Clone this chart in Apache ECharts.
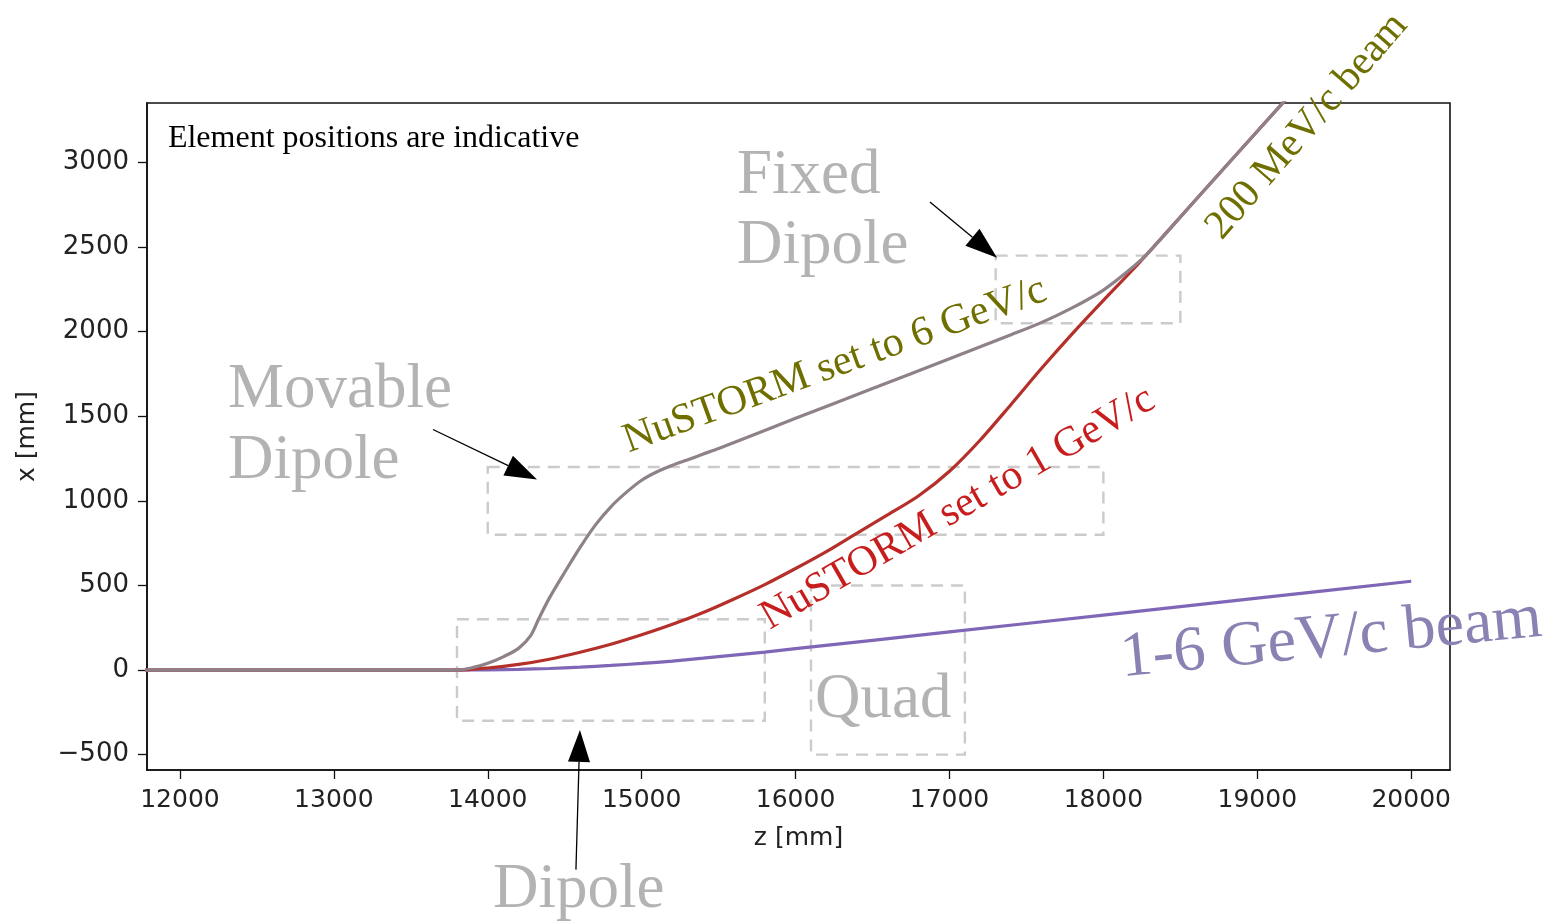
<!DOCTYPE html>
<html>
<head>
<meta charset="utf-8">
<script src="https://cdn.jsdelivr.net/npm/echarts@6/dist/echarts.min.js"></script>
<style>
  html, body { margin: 0; padding: 0; background: #ffffff; }
  #chart { width: 1546px; height: 921px; }
</style>
</head>
<body>
<div id="chart"></div>
<script>
// Axis ticks
const zTicks = [12000, 13000, 14000, 15000, 16000, 17000, 18000, 19000, 20000];
const xTicks = [-500, 0, 500, 1000, 1500, 2000, 2500, 3000];

// 1-6 GeV/c beam trajectory (z, x in mm)
const beamLowZ = [11700, 13800, 14000, 14200, 14400, 14600, 14800, 15000, 15200, 15400, 15600, 15800, 16000, 17000, 18000, 19000, 20000];
const beamLowX = [0, 0, 1, 4, 9, 17, 27, 39, 53, 70, 88, 106, 126, 225, 325, 425, 525];

// nuSTORM set to 1 GeV/c trajectory
const nu1Z = [11700, 13800, 14000, 14200, 14400, 14600, 14800, 15000, 15200, 15400, 15600, 15800, 16000, 16200, 16400, 16600, 16800, 17000, 17200, 17400, 17600, 17800, 18000, 18200, 18300, 18600, 19000, 19400];
const nu1X = [0, 0, 12, 33, 64, 105, 152, 208, 270, 340, 420, 505, 600, 700, 810, 918, 1030, 1175, 1360, 1570, 1785, 1990, 2185, 2375, 2475, 2780, 3185, 3590];

// nuSTORM set to 6 GeV/c / 200 MeV/c beam trajectory
const nu6Z = [11700, 13800, 13900, 14000, 14100, 14200, 14280, 14330, 14400, 14500, 14600, 14700, 14800, 14900, 15000, 15100, 15200, 15300, 15400, 15500, 16000, 16500, 17000, 17400, 17600, 17800, 18000, 18200, 18300, 18600, 19000, 19400];
const nu6X = [0, 0, 14, 40, 78, 128, 205, 300, 425, 578, 725, 858, 965, 1050, 1122, 1172, 1210, 1243, 1277, 1310, 1488, 1664, 1840, 1982, 2055, 2142, 2246, 2388, 2475, 2780, 3185, 3590];

// Beamline elements: [zStart, zEnd, xLow, xHigh]
const dipoleBox = [13800, 15800, -300, 300];
const movableDipoleBox = [14000, 18000, 800, 1200];
const quadBox = [16100, 17100, -500, 500];
const fixedDipoleBox = [17300, 18500, 2050, 2450];

function pairs(zs, xs) { return zs.map((z, i) => [z, xs[i]]); }
function box(b) { return [{ coord: [b[0], b[3]] }, { coord: [b[1], b[2]] }]; }

const chart = echarts.init(document.getElementById('chart'), null, { renderer: 'canvas' });

const tickFont = { fontFamily: 'DejaVu Sans', fontSize: 25, color: '#222222' };
const axisStroke = { color: '#111111', width: 1.6 };

const option = {
  animation: false,
  backgroundColor: '#ffffff',
  grid: {
    left: 147, right: 96, top: 103, bottom: 151,
    show: true, borderColor: '#111111', borderWidth: 1.6, backgroundColor: 'transparent'
  },
  xAxis: {
    type: 'value', min: 11786, max: 20252,
    name: 'z [mm]', nameLocation: 'middle', nameGap: 56,
    nameTextStyle: tickFont,
    axisLine: { show: true, onZero: false, lineStyle: axisStroke },
    axisTick: { show: true, length: 9, customValues: zTicks, lineStyle: { color: '#111111', width: 1.3 } },
    axisLabel: { customValues: zTicks, margin: 18, ...tickFont, formatter: v => String(v) },
    splitLine: { show: false }
  },
  yAxis: {
    type: 'value', min: -591, max: 3352,
    name: 'x [mm]', nameLocation: 'middle', nameGap: 107, nameRotate: 90,
    nameTextStyle: tickFont,
    axisLine: { show: true, onZero: false, lineStyle: axisStroke },
    axisTick: { show: true, length: 9, customValues: xTicks, lineStyle: { color: '#111111', width: 1.3 } },
    axisLabel: {
      customValues: xTicks, margin: 18, ...tickFont, fontSize: 26,
      formatter: v => (v < 0 ? '\u2212' + Math.abs(v) : String(v))
    },
    splitLine: { show: false }
  },
  series: [
    {
      name: 'elements', type: 'line', data: [], z: 1, silent: true,
      markArea: {
        silent: true,
        itemStyle: { color: 'rgba(0,0,0,0)', borderColor: '#cbcbcb', borderWidth: 2.4, borderType: [12, 8] },
        label: { show: false },
        data: [box(dipoleBox), box(movableDipoleBox), box(quadBox), box(fixedDipoleBox)]
      }
    },
    {
      name: '1-6 GeV/c beam', type: 'line', data: pairs(beamLowZ, beamLowX),
      showSymbol: false, smooth: 0.3, clip: true, z: 3,
      lineStyle: { color: '#8066b6', width: 3.2 }
    },
    {
      name: 'NuSTORM set to 1 GeV/c', type: 'line', data: pairs(nu1Z, nu1X),
      showSymbol: false, smooth: 0.3, clip: true, z: 4,
      lineStyle: { color: '#b5302a', width: 3.2 }
    },
    {
      name: 'NuSTORM set to 6 GeV/c', type: 'line', data: pairs(nu6Z, nu6X),
      showSymbol: false, smooth: 0.3, clip: true, z: 5,
      lineStyle: { color: '#8e8189', width: 3.2 }
    }
  ]
};
chart.setOption(option);

// Annotations placed in data space (z, x)
const serif = '"Liberation Serif", "Times New Roman", serif';
const notes = [
  { text: 'Element positions are indicative', at: [11922, 3140], size: 32, color: '#000000', align: 'left', rot: 0 },
  { text: 'Movable', at: [12312, 1650], size: 63, color: '#b3b3b3', align: 'left', rot: 0 },
  { text: 'Dipole', at: [12312, 1232], size: 63, color: '#b3b3b3', align: 'left', rot: 0 },
  { text: 'Fixed', at: [15619, 2920], size: 63, color: '#b3b3b3', align: 'left', rot: 0 },
  { text: 'Dipole', at: [15619, 2506], size: 63, color: '#b3b3b3', align: 'left', rot: 0 },
  { text: 'Quad', at: [16126, -180], size: 63, color: '#b3b3b3', align: 'left', rot: 0 },
  { text: 'Dipole', at: [14034, -1305], size: 63, color: '#b3b3b3', align: 'left', rot: 0 },
  { text: 'NuSTORM set to 6 GeV/c', at: [16256, 1800], size: 42, color: '#6f6f00', align: 'center', rot: 20 },
  { text: 'NuSTORM set to 1 GeV/c', at: [17055, 955], size: 42, color: '#c81d1d', align: 'center', rot: 30 },
  { text: '200 MeV/c beam', at: [19323, 3215], size: 41, color: '#6f6f00', align: 'center', rot: 49 },
  { text: '1-6 GeV/c beam', at: [19480, 182], size: 64, color: '#8b82b3', align: 'center', rot: 5.5 }
];
// Arrows: tail and tip in data space
const arrows = [
  { from: [13644, 1422], to: [14320, 1127] },
  { from: [16873, 2767], to: [17309, 2437] },
  { from: [14573, -1180], to: [14599, -354] }
];

function toPx(p) { return chart.convertToPixel({ gridIndex: 0 }, p); }

const graphics = [];
notes.forEach(n => {
  const p = toPx(n.at);
  graphics.push({
    type: 'text', x: p[0], y: p[1], rotation: n.rot * Math.PI / 180, z: 100,
    style: {
      text: n.text, fill: n.color, font: n.size + 'px ' + serif,
      align: n.align, verticalAlign: 'middle'
    }
  });
});
arrows.forEach(a => {
  const t = toPx(a.from), h = toPx(a.to);
  const dx = h[0] - t[0], dy = h[1] - t[1];
  const len = Math.hypot(dx, dy), ux = dx / len, uy = dy / len;
  const headLen = 32, halfW = 11;
  const bx = h[0] - ux * headLen, by = h[1] - uy * headLen;
  graphics.push({
    type: 'line', z: 100,
    shape: { x1: t[0], y1: t[1], x2: bx, y2: by },
    style: { stroke: '#000000', lineWidth: 1.3 }
  });
  graphics.push({
    type: 'polygon', z: 100,
    shape: { points: [[h[0], h[1]], [bx - uy * halfW, by + ux * halfW], [bx + uy * halfW, by - ux * halfW]] },
    style: { fill: '#000000' }
  });
});
chart.setOption({ graphic: graphics });
</script>
</body>
</html>
